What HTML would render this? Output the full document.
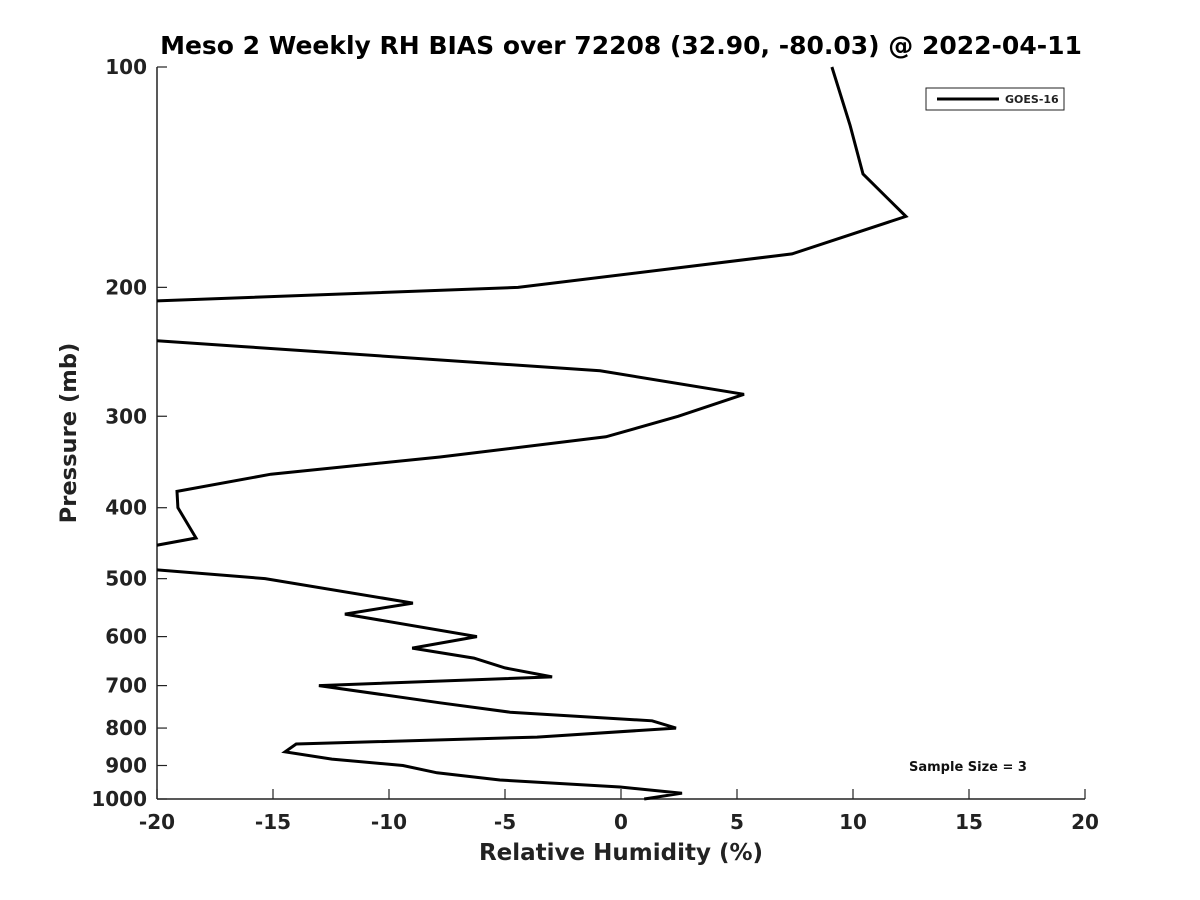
<!DOCTYPE html>
<html><head><meta charset="utf-8">
<style>
html,body{margin:0;padding:0;background:#fff;}
svg{display:block;font-family:"DejaVu Sans","Liberation Sans",sans-serif;font-weight:bold;}
</style></head>
<body>
<svg id="chart" width="1200" height="900" viewBox="0 0 1200 900"></svg>
<script>
const rhBias = [9.09,9.87,10.43,12.28,7.37,-4.44,-20.5,-20.5,-16.29,-0.9,5.30,2.46,-0.65,-7.8,-15.09,-19.14,-19.1,-18.32,-20.5,-20.5,-15.34,-8.97,-11.9,-6.21,-9.0,-6.34,-5.0,-2.97,-13.02,-7.8,-4.78,1.34,2.37,-3.62,-14.0,-14.48,-12.46,-9.4,-7.93,-5.22,-0.04,2.63,1.0];
const pressures = [100,120,140,160,180,200,209,236,241,260,280,300,320,341,360,380,400,440,453,485,500,540,559,600,622,642,662,681,700,739,761,782,800,823,841,862,882,900,921,942,963,982,1000];
const xTicks = [-20,-15,-10,-5,0,5,10,15,20];
const yTicks = [100,200,300,400,500,600,700,800,900,1000];

const NS='http://www.w3.org/2000/svg';
const svg=document.getElementById('chart');
const L=157,R=1085,T=67,B=799;
const xs=v=>L+(v+20)/40*(R-L);
const ys=p=>T+(Math.log10(p)-2)*(B-T);
function mk(tag,attrs,parent){const e=document.createElementNS(NS,tag);for(const k in attrs)e.setAttribute(k,attrs[k]);(parent||svg).appendChild(e);return e;}

const defs=mk('defs',{});
const cp=mk('clipPath',{id:'plotclip'},defs);
mk('rect',{x:L,y:T-2,width:R-L,height:B-T+4},cp);

const title=mk('text',{x:621,y:54,'text-anchor':'middle','font-size':'25'});
title.textContent='Meso 2 Weekly RH BIAS over 72208 (32.90, -80.03) @ 2022-04-11';



const yAxis=mk('line',{x1:L,y1:T,x2:L,y2:B,stroke:'#222','stroke-width':1.5});


const xAxis=mk('line',{x1:L,y1:B,x2:R,y2:B,stroke:'#222','stroke-width':1.5});



xTicks.forEach(v=>{
  const x=xs(v);
  const t=mk('line',{x1:x,y1:B,x2:x,y2:B-10,stroke:'#222','stroke-width':1.2});
  
  
  const l=mk('text',{x:x,y:829,'text-anchor':'middle','font-size':'20',fill:'#222'});
  l.textContent=v;
  
  
});
yTicks.forEach(p=>{
  const y=ys(p);
  const t=mk('line',{x1:L,y1:y,x2:L+10,y2:y,stroke:'#222','stroke-width':1.2});
  
  
  const l=mk('text',{x:147,y:y+7,'text-anchor':'end','font-size':'20',fill:'#222'});
  l.textContent=p;
  
  
});

const xt=mk('text',{x:621,y:860,'text-anchor':'middle','font-size':'23',fill:'#222'});
xt.textContent='Relative Humidity (%)';


const yt=mk('text',{x:0,y:0,'text-anchor':'middle','font-size':'22.6',fill:'#222',transform:'translate(76,433) rotate(-90)'});
yt.textContent='Pressure (mb)';



const pts=rhBias.map((v,i)=>xs(v).toFixed(1)+','+ys(pressures[i]).toFixed(1)).join(' ');
const line=mk('polyline',{points:pts,fill:'none',stroke:'#000','stroke-width':3,'stroke-linejoin':'miter','clip-path':'url(#plotclip)'});



const lg=mk('g',{});


mk('rect',{x:926,y:88,width:138,height:22,fill:'#fff',stroke:'#222','stroke-width':1},lg);
mk('line',{x1:937,y1:99,x2:999,y2:99,stroke:'#000','stroke-width':3},lg);
const lt=mk('text',{x:1005,y:103,'font-size':'11',fill:'#222'},lg);
lt.textContent='GOES-16';



const ss=mk('text',{x:968,y:771,'text-anchor':'middle','font-size':'13',fill:'#111'});
ss.textContent='Sample Size = 3';


</script>
</body></html>
